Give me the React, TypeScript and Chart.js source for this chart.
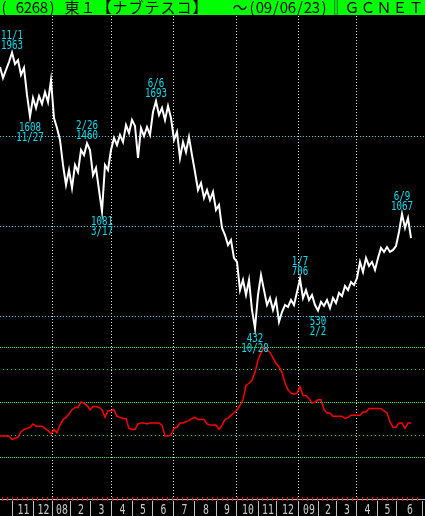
import React, { useEffect, useRef } from "react";
import { Chart, registerables } from "chart.js";
Chart.register(...registerables);

const TITLE = "( 6268) 東１【ナブテスコ】   ～(09/06/23)‖ＧＣＮＥＴ";
const SAMPLE_STEP = 3; // trading days between samples

const PRICE = [
  1883, 1822, 1867, 1911, 1963, 1900, 1922, 1839, 1878, 1728,
  1608, 1711, 1656, 1722, 1678, 1744, 1689, 1811, 1600, 1544,
  1478, 1339, 1228, 1311, 1211, 1339, 1300, 1422, 1394, 1460,
  1422, 1283, 1322, 1200, 1081, 1339, 1311, 1422, 1489, 1450,
  1506, 1467, 1561, 1517, 1589, 1556, 1378, 1544, 1500, 1550,
  1506, 1633, 1693, 1617, 1656, 1589, 1667, 1600, 1478, 1522,
  1378, 1467, 1411, 1494, 1394, 1300, 1200, 1239, 1156, 1200,
  1144, 1189, 1089, 1117, 989, 950, 894, 922, 822, 800,
  644, 700, 617, 700, 533, 432, 617, 728, 644, 561,
  600, 533, 589, 467, 522, 561, 550, 589, 561, 633,
  706, 600, 644, 589, 617, 561, 530, 578, 556, 589,
  544, 600, 572, 628, 611, 667, 644, 689, 672, 711,
  800, 744, 822, 778, 800, 756, 822, 878, 856, 883,
  856, 867, 889, 967, 1067, 989, 1044, 933,
];

const INDICATOR = [
  19, 19, 19, 19, 16, 17, 18, 23, 25, 26,
  27, 30, 28, 28, 28, 26, 24, 21, 25, 22,
  29, 34, 36, 39, 43, 45, 45, 50, 49, 47,
  43, 46, 46, 45, 43, 36, 42, 42, 43, 37,
  36, 35, 35, 26, 25, 25, 30, 31, 31, 30,
  31, 31, 31, 31, 29, 19, 19, 20, 26, 27,
  31, 31, 32, 33, 35, 36, 34, 34, 34, 30,
  29, 29, 29, 25, 29, 34, 35, 38, 40, 43,
  47, 52, 65, 67, 70, 77, 88, 95, 100, 97,
  95, 90, 85, 82, 77, 67, 61, 58, 57, 58,
  64, 56, 56, 53, 49, 50, 52, 52, 43, 40,
  40, 37, 37, 37, 37, 35, 36, 38, 38, 38,
  38, 41, 41, 44, 44, 44, 44, 44, 42, 40,
  32, 27, 27, 31, 31, 26, 31, 31,
];

const MONTH_STARTS = [12, 33, 52, 70, 90, 111, 132, 152, 173, 194, 216, 236, 258, 276, 298, 318, 336, 356, 377, 396];
const MONTH_LABELS = ["11", "12", "08", "2", "3", "4", "5", "6", "7", "8", "9", "10", "11", "12", "09", "2", "3", "4", "5", "6"];
const LAST_DAY = 422;
const DAY_MAX = 425;

const PRICE_GRID = [500, 1000, 1500];
const IND_GRID_DENSE = [0, 50, 100];
const IND_GRID_SPARSE = [20, 80];

const ANN_DAYS = [12, 30, 87, 102, 156, 255, 300, 318, 402];
const ANN_DATES = ["11/1", "11/27", "2/26", "3/17", "6/6", "10/28", "1/7", "2/2", "6/9"];
const ANN_VALUES = [1963, 1608, 1460, 1081, 1693, 432, 706, 530, 1067];
const ANN_HIGH = [true, false, true, false, true, false, true, false, true];

function narrowText(ctx: CanvasRenderingContext2D, text: string, cx: number, baseline: number, sx: number) {
  ctx.save();
  ctx.translate(cx, baseline);
  ctx.scale(sx, 1);
  ctx.textAlign = "center";
  ctx.textBaseline = "alphabetic";
  ctx.fillText(text, 0, 0);
  ctx.restore();
}

const decorPlugin = {
  id: "decor",
  beforeDraw(chart: any) {
    const { ctx, width, height } = chart;
    ctx.save();
    ctx.fillStyle = "#000000";
    ctx.fillRect(0, 0, width, height);
    ctx.restore();
  },
  beforeDatasetsDraw(chart: any) {
    const { ctx, chartArea } = chart;
    const xs = chart.scales.x;
    const yp = chart.scales.yPrice;
    const yi = chart.scales.yInd;
    ctx.save();
    ctx.lineWidth = 1;
    // horizontal price grid (cyan dotted)
    ctx.strokeStyle = "#00E0F0";
    ctx.setLineDash([1, 2]);
    PRICE_GRID.forEach((v) => {
      const y = Math.round(yp.getPixelForValue(v)) + 0.5;
      ctx.beginPath();
      ctx.moveTo(chartArea.left, y);
      ctx.lineTo(chartArea.right, y);
      ctx.stroke();
    });
    // indicator grid (green)
    ctx.strokeStyle = "#00FF00";
    ctx.setLineDash([1, 1]);
    IND_GRID_DENSE.forEach((v) => {
      const y = Math.round(yi.getPixelForValue(v)) + 0.5;
      ctx.beginPath();
      ctx.moveTo(chartArea.left, y);
      ctx.lineTo(chartArea.right, y);
      ctx.stroke();
    });
    ctx.setLineDash([1, 3]);
    IND_GRID_SPARSE.forEach((v) => {
      const y = Math.round(yi.getPixelForValue(v)) + 0.5;
      ctx.beginPath();
      ctx.moveTo(chartArea.left + 3, y);
      ctx.lineTo(chartArea.right, y);
      ctx.stroke();
    });
    // vertical quarter grid (white dotted)
    ctx.strokeStyle = "#E0E0E0";
    ctx.setLineDash([1, 2]);
    MONTH_STARTS.forEach((d, i) => {
      if ((i - 2) % 3 !== 0) return;
      const x = Math.round(xs.getPixelForValue(d)) + 0.5;
      ctx.beginPath();
      ctx.moveTo(x, chartArea.top);
      ctx.lineTo(x, chartArea.bottom);
      ctx.stroke();
    });
    ctx.restore();
  },
  afterDatasetsDraw(chart: any) {
    const { ctx, width, chartArea } = chart;
    const xs = chart.scales.x;
    const yp = chart.scales.yPrice;
    ctx.save();
    // annotations
    ctx.fillStyle = "#00E0F0";
    ctx.font = "12px 'DejaVu Sans Mono'";
    ANN_DAYS.forEach((d, i) => {
      const px = xs.getPixelForValue(d);
      const py = yp.getPixelForValue(ANN_VALUES[i]);
      if (ANN_HIGH[i]) {
        narrowText(ctx, String(ANN_VALUES[i]), px, py - 4, 0.76);
        narrowText(ctx, ANN_DATES[i], px, py - 14, 0.76);
      } else {
        narrowText(ctx, String(ANN_VALUES[i]), px, py + 14, 0.76);
        narrowText(ctx, ANN_DATES[i], px, py + 24, 0.76);
      }
    });
    // header band
    ctx.fillStyle = "#00FF00";
    ctx.fillRect(0, 0, width, chartArea.top - 1);
    ctx.fillStyle = "#000000";
    ctx.font = "15px 'Noto Sans CJK JP'";
    ctx.textAlign = "center";
    ctx.textBaseline = "alphabetic";
    let cx = 0;
    for (const ch of TITLE) {
      const w = ch.charCodeAt(0) > 0x2000 ? 16 : 8;
      if (ch !== " ") ctx.fillText(ch, cx + w / 2, 13);
      cx += w;
    }
    // bottom axis
    const axisY = chartArea.bottom + 0.5;
    ctx.strokeStyle = "#C0C0C0";
    ctx.lineWidth = 1;
    ctx.beginPath();
    ctx.moveTo(0, axisY);
    ctx.lineTo(width, axisY);
    ctx.stroke();
    ctx.fillStyle = "#FF0000";
    for (let d = 2; d < LAST_DAY; d += 5) {
      const x = Math.round(xs.getPixelForValue(d));
      ctx.fillRect(x, chartArea.bottom - 2, 1, 4);
    }
    ctx.strokeStyle = "#C0C0C0";
    const seps = [...MONTH_STARTS, LAST_DAY];
    seps.forEach((d) => {
      const x = Math.round(xs.getPixelForValue(d)) + 0.5;
      ctx.beginPath();
      ctx.moveTo(x, chartArea.bottom + 2);
      ctx.lineTo(x, 516);
      ctx.stroke();
    });
    ctx.fillStyle = "#C8C8C8";
    ctx.font = "14px 'DejaVu Sans Mono'";
    MONTH_LABELS.forEach((lab, i) => {
      const a = xs.getPixelForValue(seps[i]);
      const b = xs.getPixelForValue(seps[i + 1]);
      narrowText(ctx, lab, (a + b) / 2 + 1, 514, 0.7);
    });
    ctx.restore();
  },
};

export default function App() {
  const ref = useRef<HTMLCanvasElement | null>(null);
  useEffect(() => {
    document.body.style.margin = "0";
    document.body.style.background = "#000";
    const canvas = ref.current;
    if (!canvas) return;
    const chart = new Chart(canvas, {
      type: "line",
      data: {
        datasets: [
          {
            label: "price",
            data: PRICE.map((v, i) => ({ x: i * SAMPLE_STEP, y: v })),
            yAxisID: "yPrice",
            borderColor: "#FFFFFF",
            borderWidth: 2,
            pointRadius: 0,
            tension: 0,
          },
          {
            label: "indicator",
            data: INDICATOR.map((v, i) => ({ x: i * SAMPLE_STEP, y: v })),
            yAxisID: "yInd",
            borderColor: "#FF0000",
            borderWidth: 1.5,
            pointRadius: 0,
            tension: 0,
          },
        ],
      },
      options: {
        responsive: false,
        animation: false,
        devicePixelRatio: 1,
        layout: { padding: { top: 16, bottom: 17, left: 0, right: 0 } },
        plugins: { legend: { display: false }, tooltip: { enabled: false } },
        scales: {
          x: { type: "linear", min: 0, max: DAY_MAX, display: false },
          yPrice: { type: "linear", min: -516.7, max: 2166.7, display: false },
          yInd: { type: "linear", min: -38.2, max: 400.9, display: false },
        },
      },
      plugins: [decorPlugin],
    });
    return () => chart.destroy();
  }, []);
  return <canvas ref={ref} width={425} height={516} style={{ display: "block" }} />;
}
